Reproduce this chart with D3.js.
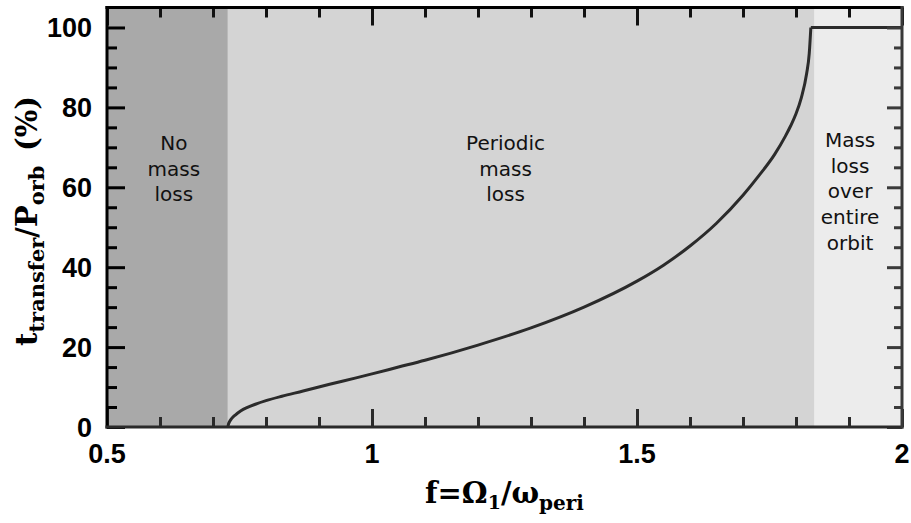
<!DOCTYPE html>
<html>
<head>
<meta charset="utf-8">
<script src="https://cdn.jsdelivr.net/npm/d3@7"></script>
<style>
  html, body { margin: 0; padding: 0; background: #fff; }
  svg { display: block; }
  .tick-lbl { font-family: "Liberation Sans", Arial, sans-serif; font-weight: bold; font-size: 27px; fill: #000; }
  .ax-title { font-family: "DejaVu Serif", "Liberation Serif", serif; font-weight: bold; font-size: 29px; fill: #000; }
  .region-lbl { font-family: "DejaVu Sans", sans-serif; font-size: 20px; fill: #111; }
</style>
</head>
<body>
<script>
// ── Data ──────────────────────────────────────────────────────────────────────

// f = Omega_1 / omega_peri  vs  t_transfer / P_orb (%)
const fVals = [0.728, 0.729, 0.731, 0.735, 0.742, 0.752, 0.765, 0.780, 0.800, 0.830,
               0.870, 0.920, 0.970, 1.000, 1.050, 1.100, 1.200, 1.300, 1.400, 1.500,
               1.550, 1.600, 1.650, 1.700, 1.730, 1.760, 1.780, 1.790, 1.800, 1.810,
               1.820, 1.825, 1.828, 2.000];
const tVals = [0, 0.6, 1.3, 2.1, 3.0, 4.0, 4.9, 5.7, 6.6, 7.7,
               9.0, 10.7, 12.3, 13.3, 15.0, 16.7, 20.5, 24.8, 30.0, 36.5,
               40.5, 45.3, 51.0, 58.0, 62.9, 68.3, 72.8, 75.4, 78.4, 82.4,
               88.4, 93.5, 100, 100];

// shaded regimes
const regionEdges  = [0.5, 0.728, 1.835, 2.0];
const regionFills  = ['#a9a9a9', '#d4d4d4', '#ececec'];
const regionLabels = [['No', 'mass', 'loss'],
                      ['Periodic', 'mass', 'loss'],
                      ['Mass', 'loss', 'over', 'entire', 'orbit']];
const regionLabelX = [0.626, 1.252, 1.902];
const regionLabelTop = [150, 150, 147];

const xMajor = [0.5, 1, 1.5, 2];
const xMajorLabels = ['0.5', '1', '1.5', '2'];
const xMinor = [0.6, 0.7, 0.8, 0.9, 1.1, 1.2, 1.3, 1.4, 1.6, 1.7, 1.8, 1.9];
const yMajor = [0, 20, 40, 60, 80, 100];
const yMinor = [5, 10, 15, 25, 30, 35, 45, 50, 55, 65, 70, 75, 85, 90, 95];

// ── Layout ────────────────────────────────────────────────────────────────────

const W = 911, H = 523;
const plot = { left: 107, right: 902, top: 7.5, bottom: 427 };

const x = d3.scaleLinear().domain([0.5, 2]).range([plot.left, plot.right]);
const y = d3.scaleLinear().domain([0, 105]).range([plot.bottom, plot.top]);

const svg = d3.select('body').append('svg')
  .attr('width', W).attr('height', H);

// ── Regions ───────────────────────────────────────────────────────────────────

svg.append('g').selectAll('rect')
  .data(regionFills)
  .join('rect')
  .attr('x', (d, i) => x(regionEdges[i]))
  .attr('width', (d, i) => x(regionEdges[i + 1]) - x(regionEdges[i]))
  .attr('y', plot.top)
  .attr('height', plot.bottom - plot.top)
  .attr('fill', d => d);

// region labels
const lineGap = 25.7;
regionLabels.forEach((lines, i) => {
  const t = svg.append('text')
    .attr('class', 'region-lbl')
    .attr('text-anchor', 'middle')
    .attr('x', x(regionLabelX[i]))
    .attr('y', regionLabelTop[i]);
  lines.forEach((s, j) => {
    t.append('tspan')
      .attr('x', x(regionLabelX[i]))
      .attr('dy', j === 0 ? 0 : lineGap)
      .text(s);
  });
});

// ── Curve ─────────────────────────────────────────────────────────────────────

const pts = fVals.map((f, i) => [f, tVals[i]]);
const peak = tVals.indexOf(100);

const rising = d3.line()
  .x(d => x(d[0])).y(d => y(d[1]))
  .curve(d3.curveMonotoneX);
const flat = d3.line()
  .x(d => x(d[0])).y(d => y(d[1]));

svg.append('path')
  .attr('d', rising(pts.slice(0, peak + 1)))
  .attr('fill', 'none').attr('stroke', '#2b2b2b').attr('stroke-width', 3);
svg.append('path')
  .attr('d', flat(pts.slice(peak)))
  .attr('fill', 'none').attr('stroke', '#2b2b2b').attr('stroke-width', 3);

// ── Axes (ticks point inward on all four sides) ───────────────────────────────

function styleAxis(sel, colour) {
  sel.select('.domain').remove();
  sel.selectAll('.tick line').attr('stroke', colour).attr('stroke-width', 3);
  sel.selectAll('.tick text').remove();
}

const MAJ = 18, MIN = 10;

// bottom
svg.append('g').attr('transform', `translate(0,${plot.bottom})`)
  .call(d3.axisBottom(x).tickValues(xMajor).tickSize(-MAJ)).call(styleAxis, '#2a2a2a');
svg.append('g').attr('transform', `translate(0,${plot.bottom})`)
  .call(d3.axisBottom(x).tickValues(xMinor).tickSize(-MIN)).call(styleAxis, '#2a2a2a');
// top
svg.append('g').attr('transform', `translate(0,${plot.top})`)
  .call(d3.axisTop(x).tickValues(xMajor).tickSize(-MAJ)).call(styleAxis, '#111');
svg.append('g').attr('transform', `translate(0,${plot.top})`)
  .call(d3.axisTop(x).tickValues(xMinor).tickSize(-MIN)).call(styleAxis, '#111');
// left
svg.append('g').attr('transform', `translate(${plot.left},0)`)
  .call(d3.axisLeft(y).tickValues(yMajor).tickSize(-MAJ)).call(styleAxis, '#000');
svg.append('g').attr('transform', `translate(${plot.left},0)`)
  .call(d3.axisLeft(y).tickValues(yMinor).tickSize(-MIN)).call(styleAxis, '#000');
// right
svg.append('g').attr('transform', `translate(${plot.right},0)`)
  .call(d3.axisRight(y).tickValues(yMajor).tickSize(-MAJ + 3)).call(styleAxis, '#3a3a3a');
svg.append('g').attr('transform', `translate(${plot.right},0)`)
  .call(d3.axisRight(y).tickValues(yMinor).tickSize(-MIN + 2)).call(styleAxis, '#3a3a3a');

// frame
const frame = svg.append('g').attr('fill', 'none').attr('stroke-width', 3)
  .attr('stroke-linecap', 'square');
frame.append('line').attr('x1', plot.left).attr('x2', plot.right)
  .attr('y1', plot.top).attr('y2', plot.top).attr('stroke', '#000');
frame.append('line').attr('x1', plot.left).attr('x2', plot.left)
  .attr('y1', plot.top).attr('y2', plot.bottom).attr('stroke', '#000');
frame.append('line').attr('x1', plot.left).attr('x2', plot.right)
  .attr('y1', plot.bottom).attr('y2', plot.bottom).attr('stroke', '#2a2a2a');
frame.append('line').attr('x1', plot.right).attr('x2', plot.right)
  .attr('y1', plot.top).attr('y2', plot.bottom).attr('stroke', '#3a3a3a');

// ── Tick labels ───────────────────────────────────────────────────────────────

svg.append('g').selectAll('text')
  .data(xMajor)
  .join('text')
  .attr('class', 'tick-lbl')
  .attr('text-anchor', 'middle')
  .attr('x', d => x(d))
  .attr('y', 463)
  .text((d, i) => xMajorLabels[i]);

svg.append('g').selectAll('text')
  .data(yMajor)
  .join('text')
  .attr('class', 'tick-lbl')
  .attr('text-anchor', 'end')
  .attr('x', 92)
  .attr('y', d => y(d) + 9.5)
  .text(d => d);

// ── Axis titles ───────────────────────────────────────────────────────────────

const xt = svg.append('text')
  .attr('class', 'ax-title')
  .attr('text-anchor', 'middle')
  .attr('x', x(1.25))
  .attr('y', 503);
xt.append('tspan').text('f=Ω');
xt.append('tspan').attr('font-size', 19).attr('dy', 6).text('1');
xt.append('tspan').attr('dy', -6).text('/ω');
xt.append('tspan').attr('font-size', 20).attr('dy', 7).text('peri');

const yt = svg.append('text')
  .attr('class', 'ax-title')
  .attr('text-anchor', 'middle')
  .attr('transform', 'translate(37,221) rotate(-90)');
yt.append('tspan').text('t');
yt.append('tspan').attr('font-size', 21).attr('dy', 7).text('transfer');
yt.append('tspan').attr('dy', -7).text('/P');
yt.append('tspan').attr('font-size', 21).attr('dy', 7).text('orb');
yt.append('tspan').attr('dy', -7).text('\u2002(%)');
</script>
</body>
</html>
